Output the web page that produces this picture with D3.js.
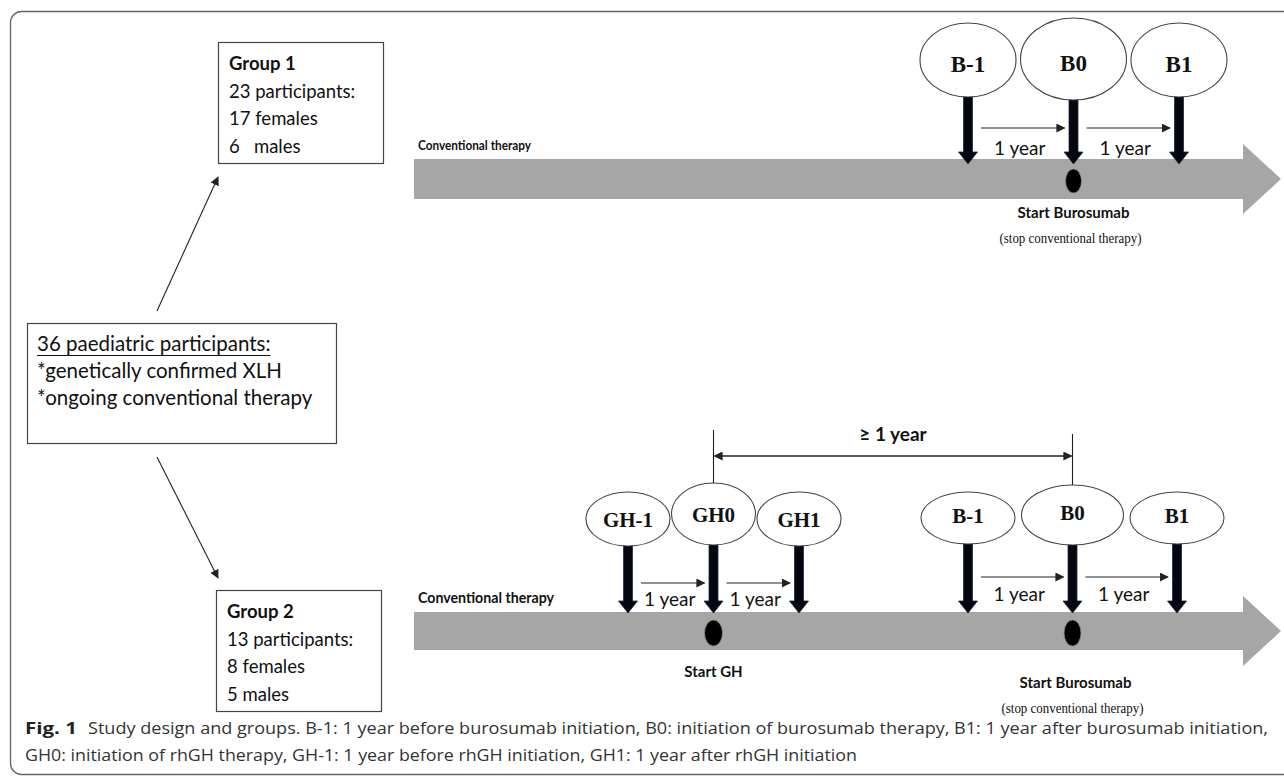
<!DOCTYPE html>
<html>
<head>
<meta charset="utf-8">
<script src="https://cdn.jsdelivr.net/npm/d3@7"></script>
<style>
  html, body { margin: 0; padding: 0; background: #fff; }
  text { white-space: pre; }
</style>
</head>
<body>
<svg id="fig" width="1284" height="778"></svg>
<script>
// ---- data ----
var groupNames = ["Group 1", "Group 2"];
var groupParticipants = [23, 13];
var groupFemales = [17, 8];
var groupMales = [6, 5];
var cohortTotal = 36;
var cohortCriteria = ["*genetically confirmed XLH", "*ongoing conventional therapy"];
var burosumabPoints = ["B-1", "B0", "B1"];
var ghPoints = ["GH-1", "GH0", "GH1"];
var intervalLabel = "1 year";
var gapLabel = "\u2265 1 year";
var captionLines = [
  "Study design and groups. B-1: 1 year before burosumab initiation, B0: initiation of burosumab therapy, B1: 1 year after burosumab initiation,",
  "GH0: initiation of rhGH therapy, GH-1: 1 year before rhGH initiation, GH1: 1 year after rhGH initiation"
];

(function() {

	var svg = d3.select('#fig');
	var sans = "Lato, 'Open Sans', sans-serif";
	var serif = "'Liberation Serif', 'DejaVu Serif', serif";
	var ink = '#222';

	var defs = svg.append('defs');
	defs.append('marker')
		.attr('id', 'head')
		.attr('viewBox', '0 0 10 10')
		.attr('refX', 9).attr('refY', 5)
		.attr('markerWidth', 9).attr('markerHeight', 9)
		.attr('markerUnits', 'userSpaceOnUse')
		.attr('orient', 'auto-start-reverse')
		.append('path')
		.attr('d', 'M0,0 L10,5 L0,10 z')
		.attr('fill', ink);

	// outer frame
	svg.append('rect')
		.attr('x', 10.5).attr('y', 11.5)
		.attr('width', 1300).attr('height', 763)
		.attr('rx', 11)
		.attr('fill', 'none')
		.attr('stroke', '#666')
		.attr('stroke-width', 1.3);

	// ---- boxes ----
	function groupBox(i, x, y, w, h) {
		var g = svg.append('g').attr('class', 'GroupBox' + (i + 1));
		g.append('rect')
			.attr('x', x + 0.5).attr('y', y + 0.5)
			.attr('width', w).attr('height', h)
			.attr('fill', '#fff')
			.attr('stroke', '#444')
			.attr('stroke-width', 1.2);
		var lines = [
			groupNames[i],
			groupParticipants[i] + ' participants:',
			groupFemales[i] + ' females',
			groupMales[i] + (i === 0 ? '   ' : ' ') + 'males'
		];
		g.selectAll('text')
			.data(lines)
			.enter()
			.append('text')
			.attr('x', x + 11)
			.attr('y', function(d, k) { return y + 21 + k * 27.5; })
			.attr('dominant-baseline', 'central')
			.attr('font-family', sans)
			.attr('font-size', 18.5)
			.attr('font-weight', function(d, k) { return k === 0 ? 700 : 400; })
			.attr('fill', '#111')
			.text(function(d) { return d; });
	}
	groupBox(0, 218, 42, 165, 121);
	groupBox(1, 216, 590, 165, 121);

	// cohort box
	var cohort = svg.append('g').attr('class', 'Cohort');
	cohort.append('rect')
		.attr('x', 27.5).attr('y', 323.5)
		.attr('width', 309).attr('height', 120)
		.attr('fill', '#fff')
		.attr('stroke', '#444')
		.attr('stroke-width', 1.2);
	var cohortLines = [cohortTotal + ' paediatric participants:'].concat(cohortCriteria);
	cohort.selectAll('text')
		.data(cohortLines)
		.enter()
		.append('text')
		.attr('x', 37)
		.attr('y', function(d, k) { return 343 + k * 27; })
		.attr('dominant-baseline', 'central')
		.attr('font-family', sans)
		.attr('font-size', 20.5)
		.attr('fill', '#111')
		.text(function(d) { return d; });
	var headW = cohort.select('text').node().getComputedTextLength();
	cohort.append('line')
		.attr('x1', 37).attr('x2', 37 + headW)
		.attr('y1', 355.5).attr('y2', 355.5)
		.attr('stroke', '#111').attr('stroke-width', 1.2);

	// arrows to groups
	svg.append('line')
		.attr('x1', 157).attr('y1', 311).attr('x2', 218).attr('y2', 177)
		.attr('stroke', ink).attr('stroke-width', 1.1)
		.attr('marker-end', 'url(#head)');
	svg.append('line')
		.attr('x1', 157).attr('y1', 457).attr('x2', 218).attr('y2', 578)
		.attr('stroke', ink).attr('stroke-width', 1.1)
		.attr('marker-end', 'url(#head)');

	// ---- timelines ----
	function timelineBar(cy, halfH, labelW, labelSize) {
		var x0 = 414, xBase = 1243, xTip = 1281, headH = 35;
		svg.append('path')
			.attr('d', 'M' + x0 + ',' + (cy - halfH) + 'L' + xBase + ',' + (cy - halfH) +
				'L' + xBase + ',' + (cy - headH) + 'L' + xTip + ',' + cy +
				'L' + xBase + ',' + (cy + headH) + 'L' + xBase + ',' + (cy + halfH) +
				'L' + x0 + ',' + (cy + halfH) + 'Z')
			.attr('fill', '#a6a6a6');
		svg.append('text')
			.attr('x', 418).attr('y', cy - halfH - 9)
			.attr('font-family', sans)
			.attr('font-size', labelSize)
			.attr('font-weight', 700)
			.attr('fill', '#111')
			.attr('textLength', labelW)
			.attr('lengthAdjust', 'spacingAndGlyphs')
			.text('Conventional therapy');
	}
	timelineBar(179, 20, 113, 12.5);
	timelineBar(631, 19, 136, 14.5);

	function timepoints(points, xRange, o) {
		var x = d3.scalePoint().domain(points).range(xRange);
		var g = svg.append('g').attr('class', 'Points');
		var mid = points[1];
		var rx = function(d) { return d === mid ? o.rxMid : o.rx; };
		var ry = function(d) { return d === mid ? o.ryMid : o.ry; };
		var cy = function(d) { return d === mid ? o.cyMid : o.cy; };

		// stems with heads
		g.selectAll('path.stem')
			.data(points)
			.enter()
			.append('path')
			.attr('class', 'stem')
			.attr('d', function(d) {
				var cx = x(d), top = cy(d) + ry(d) - 1, tip = o.tip;
				return 'M' + (cx - 4.5) + ',' + top + 'L' + (cx + 4.5) + ',' + top +
					'L' + (cx + 4.5) + ',' + (tip - 12) + 'L' + (cx + 9.5) + ',' + (tip - 12) +
					'L' + cx + ',' + tip + 'L' + (cx - 9.5) + ',' + (tip - 12) +
					'L' + (cx - 4.5) + ',' + (tip - 12) + 'Z';
			})
			.attr('fill', '#05060f')
			.attr('stroke', '#1d2a4a')
			.attr('stroke-width', 0.8);

		g.selectAll('ellipse')
			.data(points)
			.enter()
			.append('ellipse')
			.attr('cx', function(d) { return x(d); })
			.attr('cy', cy)
			.attr('rx', rx)
			.attr('ry', ry)
			.attr('fill', '#fff')
			.attr('stroke', '#444')
			.attr('stroke-width', 1.1);

		g.selectAll('text.pt')
			.data(points)
			.enter()
			.append('text')
			.attr('class', 'pt')
			.attr('x', function(d) { return x(d); })
			.attr('y', function(d) { return cy(d) + o.textDy; })
			.attr('text-anchor', 'middle')
			.attr('dominant-baseline', 'central')
			.attr('font-family', serif)
			.attr('font-weight', 700)
			.attr('font-size', o.fontSize)
			.attr('fill', '#111')
			.text(function(d) { return d; });

		// 1 year intervals
		var pairs = d3.pairs(points);
		g.selectAll('line.yr')
			.data(pairs)
			.enter()
			.append('line')
			.attr('class', 'yr')
			.attr('x1', function(p) { return x(p[0]) + 13; })
			.attr('x2', function(p) { return x(p[1]) - 9; })
			.attr('y1', o.yrY).attr('y2', o.yrY)
			.attr('stroke', ink).attr('stroke-width', 1.1)
			.attr('marker-end', 'url(#head)');
		g.selectAll('text.yr')
			.data(pairs)
			.enter()
			.append('text')
			.attr('class', 'yr')
			.attr('x', function(p) { return (x(p[0]) + x(p[1])) / 2 - 1; })
			.attr('y', o.yrY + o.yrDy)
			.attr('text-anchor', 'middle')
			.attr('dominant-baseline', 'central')
			.attr('font-family', sans)
			.attr('font-size', 19)
			.attr('fill', '#111')
			.text(intervalLabel);

		// start marker
		g.append('ellipse')
			.attr('cx', x(mid)).attr('cy', o.barCy)
			.attr('rx', o.dotRx).attr('ry', o.dotRy)
			.attr('fill', '#000')
			.attr('stroke', '#888').attr('stroke-width', 0.8);

		return x;
	}

	var xTop = timepoints(burosumabPoints, [968, 1179], {
		cy: 60, cyMid: 59, rx: 48, rxMid: 53, ry: 37, ryMid: 41,
		textDy: 4, fontSize: 23, tip: 164, yrY: 128, yrDy: 19,
		barCy: 181, dotRx: 8, dotRy: 12
	});
	var xGh = timepoints(ghPoints, [628, 799], {
		cy: 519, cyMid: 514, rx: 42, rxMid: 42, ry: 27, ryMid: 31,
		textDy: 1, fontSize: 21, tip: 613, yrY: 583, yrDy: 15,
		barCy: 633, dotRx: 9, dotRy: 13
	});
	var xB = timepoints(burosumabPoints, [968, 1177], {
		cy: 518, cyMid: 515, rx: 47, rxMid: 51, ry: 26, ryMid: 30,
		textDy: -2, fontSize: 21, tip: 613, yrY: 577, yrDy: 16,
		barCy: 633, dotRx: 8.5, dotRy: 13
	});

	// start labels
	function startLabel(cx, y, txt, note) {
		svg.append('text')
			.attr('x', cx).attr('y', y)
			.attr('text-anchor', 'middle')
			.attr('dominant-baseline', 'central')
			.attr('font-family', sans)
			.attr('font-size', 15)
			.attr('font-weight', 700)
			.attr('fill', '#111')
			.text(txt);
		if (note) {
			svg.append('text')
				.attr('x', cx - 3).attr('y', y + 26)
				.attr('text-anchor', 'middle')
				.attr('dominant-baseline', 'central')
				.attr('font-family', serif)
				.attr('font-size', 15)
				.attr('fill', '#111')
				.attr('textLength', 142)
				.attr('lengthAdjust', 'spacingAndGlyphs')
				.text(note);
		}
	}
	startLabel(xTop('B0'), 212, 'Start Burosumab', '(stop conventional therapy)');
	startLabel(xGh('GH0'), 671, 'Start GH');
	startLabel(xB('B0') + 3, 682, 'Start Burosumab', '(stop conventional therapy)');

	// >= 1 year bracket
	var gx0 = xGh('GH0'), gx1 = xB('B0');
	svg.append('line')
		.attr('x1', gx0).attr('x2', gx0).attr('y1', 430).attr('y2', 483)
		.attr('stroke', ink).attr('stroke-width', 1.1);
	svg.append('line')
		.attr('x1', gx1).attr('x2', gx1).attr('y1', 434).attr('y2', 485)
		.attr('stroke', ink).attr('stroke-width', 1.1);
	svg.append('line')
		.attr('x1', gx0 + 1).attr('x2', gx1 - 1).attr('y1', 456).attr('y2', 456)
		.attr('stroke', ink).attr('stroke-width', 1.3)
		.attr('marker-start', 'url(#head)')
		.attr('marker-end', 'url(#head)');
	svg.append('text')
		.attr('x', (gx0 + gx1) / 2).attr('y', 433)
		.attr('text-anchor', 'middle')
		.attr('dominant-baseline', 'central')
		.attr('font-family', sans)
		.attr('font-size', 19)
		.attr('font-weight', 700)
		.attr('fill', '#111')
		.text(gapLabel);

	// ---- caption ----
	var cap = svg.append('g').attr('class', 'Caption');
	cap.append('text')
		.attr('x', 25).attr('y', 728)
		.attr('dominant-baseline', 'central')
		.attr('font-family', "'Open Sans', sans-serif")
		.attr('font-size', 16)
		.attr('font-weight', 700)
		.attr('fill', '#222')
		.attr('textLength', 52)
		.attr('lengthAdjust', 'spacingAndGlyphs')
		.text('Fig. 1');
	cap.selectAll('text.cap')
		.data(captionLines)
		.enter()
		.append('text')
		.attr('class', 'cap')
		.attr('x', function(d, k) { return k === 0 ? 88 : 25; })
		.attr('y', function(d, k) { return 728 + k * 27; })
		.attr('dominant-baseline', 'central')
		.attr('font-family', "'Open Sans', sans-serif")
		.attr('font-size', 16)
		.attr('fill', '#333')
		.attr('textLength', function(d, k) { return k === 0 ? 1180 : 832; })
		.attr('lengthAdjust', 'spacingAndGlyphs')
		.text(function(d) { return d; });

})();
</script>
</body>
</html>
